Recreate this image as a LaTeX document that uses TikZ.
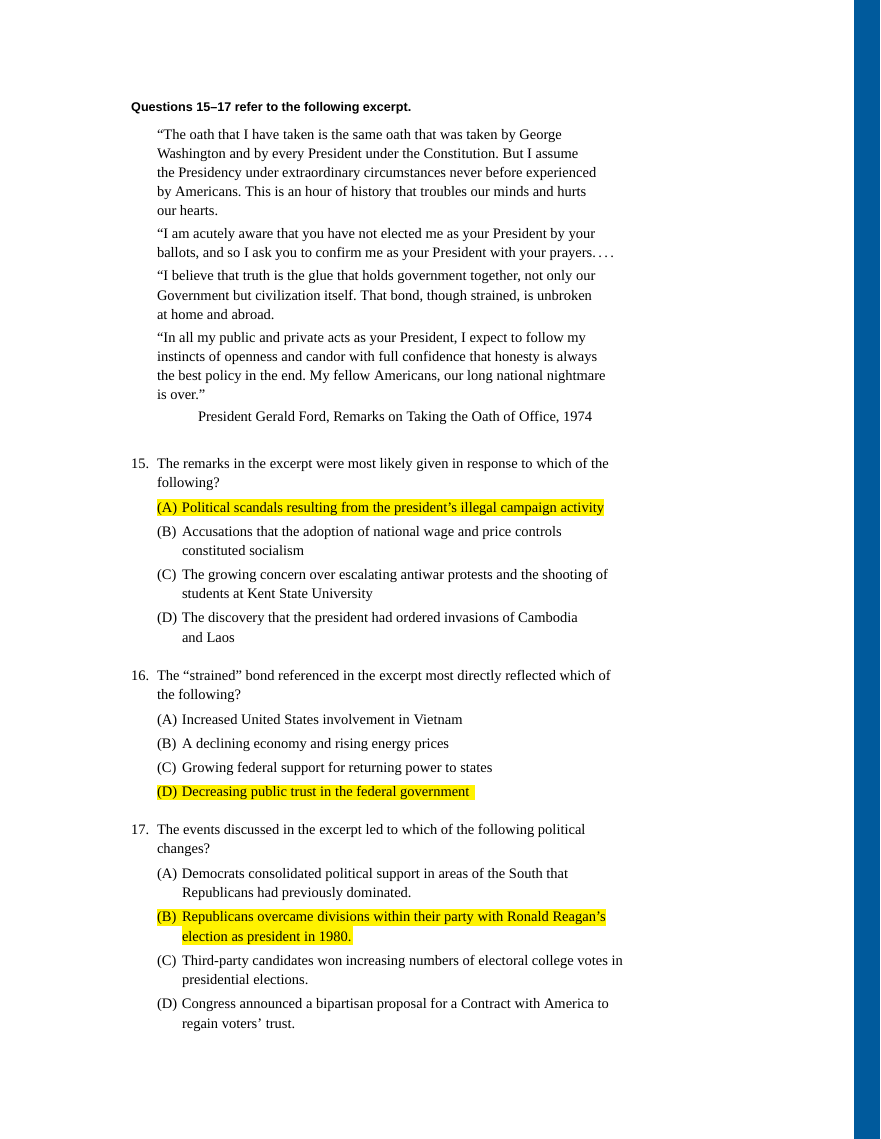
\documentclass[tikz,border=0pt]{standalone}
\usepackage{fontspec}
\setmainfont{Liberation Serif}
\newfontfamily\headfont{Liberation Sans}
\definecolor{barblue}{RGB}{0,90,156}
\definecolor{hlyellow}{RGB}{255,242,0}
\newcommand{\optlbl}[1]{\makebox[25pt][l]{#1}}
\begin{document}
\frenchspacing
\begin{tikzpicture}[x=1pt,y=-1pt,
  txt/.style={anchor=base west,inner sep=0pt,outer sep=0pt,font=\fontsize{14.5}{17}\selectfont},
  head/.style={anchor=base west,inner sep=0pt,font=\headfont\bfseries\fontsize{12.6}{14}\selectfont},
  hl/.style={fill=hlyellow,draw=none}]
\useasboundingbox (0,0) rectangle (880,1139);
\fill[barblue] (854,0) rectangle (880,1139);
% highlights
\fill[hl] (157,499) rectangle (604,516);
\fill[hl] (157,785) rectangle (475,800);
\fill[hl] (157,909) rectangle (606,926);
\fill[hl] (182,926) rectangle (353,945);
% heading
\node[head] (h) at (131,112) {Questions 15–17 refer to the following excerpt.};
% excerpt
\node[txt] (p1a) at (157,140) {“The oath that I have taken is the same oath that was taken by George};
\node[txt] (p1b) at (157,159) {Washington and by every President under the Constitution. But I assume};
\node[txt] (p1c) at (157,178) {the Presidency under extraordinary circumstances never before experienced};
\node[txt] (p1d) at (157,197) {by Americans. This is an hour of history that troubles our minds and hurts};
\node[txt] (p1e) at (157,216) {our hearts.};
\node[txt] (p2a) at (157,239) {“I am acutely aware that you have not elected me as your President by your};
\node[txt] (p2b) at (157,258) {ballots, and so I ask you to confirm me as your President with your prayers.\,.\,.\,.};
\node[txt] (p3a) at (157,281) {“I believe that truth is the glue that holds government together, not only our};
\node[txt] (p3b) at (157,300) {Government but civilization itself. That bond, though strained, is unbroken};
\node[txt] (p3c) at (157,319) {at home and abroad.};
\node[txt] (p4a) at (157,342) {“In all my public and private acts as your President, I expect to follow my};
\node[txt] (p4b) at (157,361) {instincts of openness and candor with full confidence that honesty is always};
\node[txt] (p4c) at (157,380) {the best policy in the end. My fellow Americans, our long national nightmare};
\node[txt] (p4d) at (157,399) {is over.”};
\node[txt] (src) at (198,421) {President Gerald Ford, Remarks on Taking the Oath of Office, 1974};
% Q15
\node[txt] (n15) at (131,468) {15.};
\node[txt] (q15a) at (157,468) {The remarks in the excerpt were most likely given in response to which of the};
\node[txt] (q15b) at (157,487) {following?};
\node[txt] (a15) at (157,512) {\optlbl{(A)}Political scandals resulting from the president’s illegal campaign activity};
\node[txt] (b15a) at (157,536) {\optlbl{(B)}Accusations that the adoption of national wage and price controls};
\node[txt] (b15b) at (182,555) {constituted socialism};
\node[txt] (c15a) at (157,579) {\optlbl{(C)}The growing concern over escalating antiwar protests and the shooting of};
\node[txt] (c15b) at (182,598) {students at Kent State University};
\node[txt] (d15a) at (157,622) {\optlbl{(D)}The discovery that the president had ordered invasions of Cambodia};
\node[txt] (d15b) at (182,642) {and Laos};
% Q16
\node[txt] (n16) at (131,680) {16.};
\node[txt] (q16a) at (157,680) {The “strained” bond referenced in the excerpt most directly reflected which of};
\node[txt] (q16b) at (157,699) {the following?};
\node[txt] (a16) at (157,724) {\optlbl{(A)}Increased United States involvement in Vietnam};
\node[txt] (b16) at (157,748) {\optlbl{(B)}A declining economy and rising energy prices};
\node[txt] (c16) at (157,772) {\optlbl{(C)}Growing federal support for returning power to states};
\node[txt] (d16) at (157,796) {\optlbl{(D)}Decreasing public trust in the federal government};
% Q17
\node[txt] (n17) at (131,834) {17.};
\node[txt] (q17a) at (157,834) {The events discussed in the excerpt led to which of the following political};
\node[txt] (q17b) at (157,853) {changes?};
\node[txt] (a17a) at (157,878) {\optlbl{(A)}Democrats consolidated political support in areas of the South that};
\node[txt] (a17b) at (182,897) {Republicans had previously dominated.};
\node[txt] (b17a) at (157,921) {\optlbl{(B)}Republicans overcame divisions within their party with Ronald Reagan’s};
\node[txt] (b17b) at (182,941) {election as president in 1980.};
\node[txt] (c17a) at (157,965) {\optlbl{(C)}Third-party candidates won increasing numbers of electoral college votes in};
\node[txt] (c17b) at (182,984) {presidential elections.};
\node[txt] (d17a) at (157,1008) {\optlbl{(D)}Congress announced a bipartisan proposal for a Contract with America to};
\node[txt] (d17b) at (182,1028) {regain voters’ trust.};
\end{tikzpicture}
\end{document}
